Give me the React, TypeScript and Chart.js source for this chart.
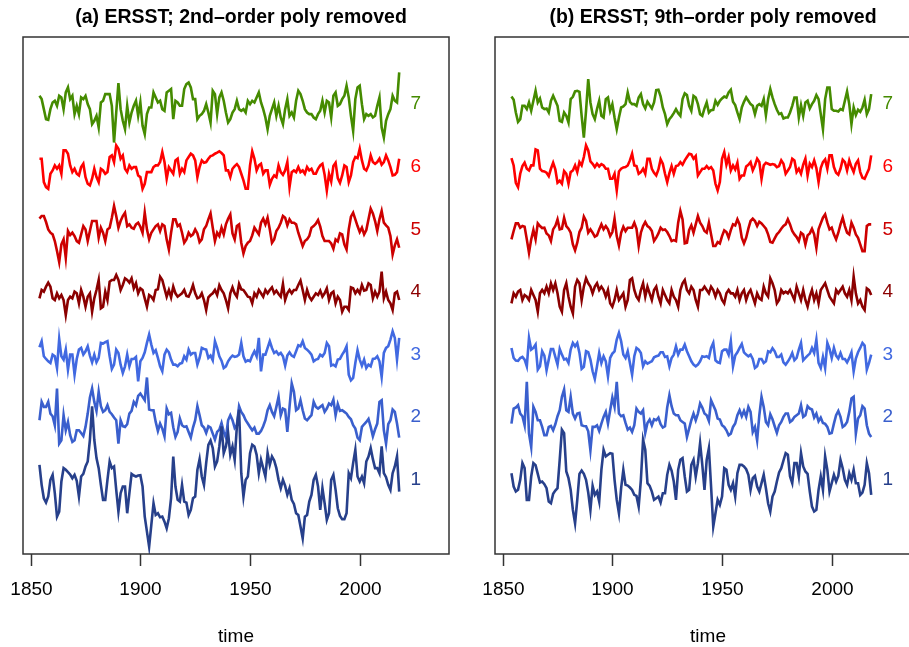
import React, { useEffect, useRef } from "react";
import { Chart, registerables } from "chart.js";
Chart.register(...registerables);

// ---------- data ----------
const START_YEAR = 1854;
const X_TICKS = [1850, 1900, 1950, 2000];
const SERIES_LABELS = ["1", "2", "3", "4", "5", "6", "7"];
const SERIES_COLORS = ["#27408B", "#3A5FCD", "#4169E1", "#8B0000", "#CD0000", "#FF0000", "#458B00"];
const TITLE_A = "(a) ERSST; 2nd\u2013order poly removed";
const TITLE_B = "(b) ERSST; 9th\u2013order poly removed";
const X_TITLE = "time";

// anomalies (arbitrary units; spacing between stacked series = 187.5)
const A1 = [45, -15, -55, -68, -50, 0, 15, -40, -110, -95,
  -5, 35, 30, 23, 16, 5, 15, -3, -50, 10,
  18, 40, 55, 120, 220, 120, 65, 35, -15, -60,
  -60, 0, 55, 35, 40, -30, -95, -40, -20, -20,
  -100, -40, 18, 13, 10, 13, 14, -20, -110, -155,
  -200, -135, -70, -105, -100, -112, -110, -125, -145, -115,
  -55, 70, -20, -60, -65, -15, -65, -68, -105, -90,
  -55, -50, 30, 62, 10, -15, 50, 105, 118, 95,
  40, 55, 100, 160, 80, 100, 140, 75, 100, 60,
  160, 210, 20, -50, 0, 10, 80, 105, 100, 75,
  20, 60, 35, 10, 80, 45, 70, 58, 35, 0,
  -25, 0, -18, -45, -25, -60, -72, -100, -105, -140,
  -175, -110, -105, -65, -45, 0, 15, -20, -90, -25,
  -70, -120, -100, 0, 15, -30, -85, -108, -118, -118,
  -100, 20, 5, 50, 90, 10, -5, 10, -10, 55,
  70, 95, 62, 35, 35, 20, 100, 20, 8, -15,
  -30, 20, 40, 70, -35];
const A2 = [-9, 46, 31, 31, 46, 11, 3, -24, 86, -79,
  -69, 6, -39, -14, -54, -74, -69, -39, -39, -47,
  -56, -29, 11, 59, 86, 46, 19, 76, 33, 16,
  21, 36, 16, 9, -1, -9, -79, -9, -27, -29,
  -21, 11, 19, 46, 36, 64, 71, 61, 51, 119,
  23, 21, 21, -14, -41, -19, -34, -57, 26, 9,
  13, -30, -59, -44, -4, -24, -29, -27, -44, -61,
  -31, -9, 33, 6, -24, -31, -47, -27, -31, -49,
  -67, -44, -37, -17, -44, -61, -9, 6, -9, -32,
  -24, 33, 16, 6, -9, -19, -29, -39, -31, -49,
  -49, -41, -27, -9, 21, 36, 16, 3, 31, 61,
  6, 26, 23, -44, 31, 101, 76, 21, 26, 51,
  21, -4, -9, -1, 6, 46, 31, 26, 31, 36,
  16, 26, 41, 36, 53, 6, 39, 19, 21, 16,
  11, 1, -6, -24, -34, -61, -69, -29, -21, -14,
  -5, -29, -57, -36, -19, 46, 51, -39, -79, -21,
  -9, 23, 16, -19, -61];
const A3 = [22, 40, -5, -13, -20, -25, 0, -5, -40, 47,
  -5, -15, 15, -45, 0, 0, -60, -13, 15, 20,
  0, 10, 25, -3, -23, 0, -23, -10, 35, 33,
  37, 40, -5, -43, -30, 15, 5, -30, -55, -35,
  0, -35, -13, -13, -7, -80, -20, -10, 7, 35,
  60, 30, 5, 13, -10, -35, -50, 0, 15, 7,
  -15, -30, -30, -35, -27, -25, -5, -15, 15, 0,
  5, 5, -30, -10, 20, 17, 15, -10, -3, -17,
  40, 20, -5, -18, -40, -35, -20, -10, -3, -7,
  -5, 0, 35, -5, -21, -17, -20, -3, 10, -5,
  50, -50, 0, 0, 20, 40, 20, 5, 10, 0,
  5, -5, -33, -3, 7, -3, -7, 10, 28, 25,
  40, 20, 15, 8, 0, -20, -15, -13, 0, -5,
  5, 35, 25, -33, -30, -35, -15, -13, 0, 10,
  25, -60, -77, -70, -25, 13, -15, -33, -15, -40,
  -30, -35, -13, -12, -5, -20, -67, 5, 20, 25,
  45, 70, 50, -15, 50];
const A4 = [-19, 6, 1, 16, 28, 16, -19, -24, -4, -19,
  -9, -24, -69, -24, -14, -19, 1, -4, -34, 6,
  -14, -44, -14, -4, -59, -19, 6, 36, -49, -44,
  1, -24, 31, 36, 36, 51, 36, 6, 21, 41,
  36, 28, 41, 11, 26, -4, 11, 6, -19, -44,
  -9, -14, -24, 6, 8, 46, 36, 11, -14, 6,
  -16, 16, -4, -14, -9, -4, 6, -12, -14, 1,
  21, -4, -19, -16, -4, -24, -54, -16, -9, -4,
  6, -9, 20, 6, -4, -24, -49, -4, 14, -4,
  -14, 24, 8, 6, -4, -14, -16, -34, -4, -14,
  6, -4, -14, 6, -4, 6, 14, -4, 4, -6,
  -14, 24, -24, -4, 6, -4, 6, 6, 21, 34,
  6, -24, 6, -14, -24, -14, -4, -9, 4, -14,
  -4, 11, -24, -4, 1, -34, -14, -24, -59, -44,
  -44, -54, 14, 11, -4, 6, -4, 21, 4, 6,
  26, 21, -19, 1, -14, 1, 61, -19, 1, -24,
  -34, -54, -4, 1, -24];
const A5 = [32, 40, 40, 22, 0, -10, -15, -35, -65, -98,
  -45, -30, -85, -5, -17, -10, -20, -35, -40, -15,
  10, 0, -35, -5, 25, 25, 25, -25, 5, -10,
  -35, 0, 5, 35, 70, 40, 5, 25, 40, 50,
  10, 15, 5, 2, 15, 20, 8, -10, 50, 0,
  -30, -10, 0, 10, 15, -5, 15, 10, -30, -60,
  -10, 30, 30, 10, 15, -10, -40, -30, -10, -20,
  -15, 0, -12, -38, -30, 0, 10, 30, 48, 5,
  -35, -10, -20, 5, -15, 15, 32, 45, -12, -30,
  10, 15, -40, -72, -50, -40, -35, -18, 5, -5,
  -15, 20, 32, 15, 35, 0, -40, -30, -5, 5,
  20, 40, 35, 12, 30, 20, 20, 15, -10, -30,
  -50, -35, -30, -20, 5, 10, 17, 28, 8, -20,
  -35, -35, -35, -42, -58, -30, -36, -12, -15, -45,
  -60, 0, 38, 50, 30, 10, -8, 5, -15, -2,
  30, 62, 48, 25, -5, 30, 55, 20, 12, 5,
  -20, -75, -48, -30, -55];
const A6 = [24, 24, -46, -61, -66, -21, -11, 4, -6, 4,
  -21, 49, 49, 39, 4, -16, -6, -21, -26, -1,
  9, -31, -51, -56, -36, -6, -31, -46, -6, -11,
  -21, -16, 29, 34, 14, 64, 54, 24, 34, -6,
  -16, 4, -6, -1, -1, -26, -31, -66, -51, -16,
  -16, -16, -1, 4, 4, 14, 44, 14, -36, -1,
  -11, -21, 19, 24, -21, -6, -16, 19, 29, 39,
  34, 19, -31, -1, 19, 12, 14, 24, 32, 34,
  39, 42, 46, 41, 34, -11, -11, -31, -6, 2,
  8, -1, -21, -41, -66, -66, 4, 46, 24, -11,
  4, 9, -21, -11, -11, -54, -36, -26, -31, 4,
  -16, -24, -11, 14, -61, -16, -11, -16, -1, -16,
  -11, -21, -1, -11, -6, -21, -21, -6, 4, 9,
  -24, -71, -21, -44, 2, 12, -34, -48, -26, 4,
  -1, -46, -26, 14, 29, 26, 54, 19, -6, -11,
  4, 34, 14, 9, 14, 24, 6, 14, 34, 19,
  -1, -26, -24, -16, 24];
const A7 = [25, 15, -15, -45, -47, -15, 5, 10, -5, 25,
  20, -15, 35, 50, 15, 25, -30, -5, -30, 20,
  15, 25, 0, -15, -60, -50, -35, -70, 5, 10,
  30, 30, 30, -5, -115, -25, 63, -15, -50, -75,
  -5, -55, -25, -5, 10, -35, 5, -65, -90, -30,
  -10, -10, 35, 20, 5, 10, -15, -20, 35, 40,
  45, -45, 10, 5, -5, -5, 45, 60, 65, 50,
  15, 15, -45, -35, -30, -20, 0, -25, -55, 40,
  30, -30, 20, 35, 10, -25, -55, -45, -25, -15,
  10, -15, -20, -15, -25, 10, 0, 10, 5, 20,
  35, 5, -15, -40, -75, -35, -15, 5, -35, -5,
  -40, -60, -15, 15, -35, -25, -40, 10, 40, 30,
  10, -15, -25, -30, -30, -40, -45, -30, -20, 10,
  -25, 10, 5, -40, 25, 35, -5, 0, 15, 25,
  55, 20, -35, -80, 15, 50, 55, 0, -45, -30,
  -35, -30, -40, -35, -5, 20, -70, -100, -50, -30,
  -15, 25, 10, 5, 95];

const B1 = [20, -20, -35, -30, 0, 50, 35, -60, -60, 10,
  50, 44, 18, -8, -5, -13, -25, -65, -70, -42,
  -32, -25, 60, 150, 140, 25, 5, -30, -90, -130,
  -60, 18, 28, 18, 0, -38, -90, -18, -45, -35,
  -65, 30, 90, 70, 75, 80, 78, 0, -60, -100,
  -25, 30, -15, -17, -23, -30, -45, -48, -80, 0,
  120, 90, -10, -18, -35, -60, -55, -50, -68, -40,
  -40, 15, 45, 28, -5, -60, 30, 60, 65, 10,
  -35, -30, 45, 60, 10, 50, 110, 45, -30, 60,
  95, -20, -140, -100, -60, -75, -50, 35, 30, -15,
  -30, -10, -50, 20, 45, 45, 40, 32, 15, -30,
  5, 12, -20, -35, -10, 15, -25, -70, -95, -50,
  -35, -5, 22, 35, 58, 80, 75, 10, -10, 50,
  50, 10, 80, 40, 25, 18, -35, -80, -95, -90,
  -30, 10, -30, 70, 30, -35, -10, 15, -5, 12,
  60, 35, 0, -15, 20, 0, 30, -10, -10, -45,
  -38, -15, 50, 20, -45];
const B2 = [-19, 26, 29, 36, 11, 3, -24, 106, -49, -89,
  31, 16, -9, -9, -29, -54, -54, -29, -26, -39,
  -21, 3, 21, 61, 83, 21, 16, 61, 11, -4,
  11, 13, -24, -26, -27, -42, -99, -29, -29, -24,
  -41, -19, 1, 16, -19, 21, 59, 31, 106, 11,
  3, 6, -17, -37, -31, -44, -24, 26, 16, 11,
  21, -47, -17, -7, -24, -6, -9, -1, -21, -31,
  -27, 29, 66, 33, 11, 6, 6, -9, -14, -19,
  -59, -34, -9, 11, -9, 11, 41, 29, 11, 6,
  -11, 51, 36, 21, -4, -7, -24, -29, -39, -54,
  -49, -29, -19, 6, 21, 3, 19, 1, 31, 16,
  -44, -29, -69, 6, 61, 31, -14, -24, 9, -6,
  -27, -47, -24, -14, 1, 11, 11, -14, -9, 1,
  6, 11, 36, 1, 6, 33, 26, 23, -1, 11,
  -12, -1, -17, -20, -29, -49, -47, -19, 6, 19,
  1, -29, -24, -14, 16, 56, 61, -49, -4, 6,
  33, 26, -24, -49, -59];
const B3 = [20, -10, -18, -19, -10, -7, -15, -35, 50, 15,
  20, 30, -45, -35, 10, -3, -47, -15, 17, 17,
  -7, -30, 17, 0, -15, -12, -25, 15, 35, 25,
  35, 5, -43, -37, 10, 7, -15, -50, -73, -35,
  5, -25, -5, -20, -65, -10, 3, 10, 45, 65,
  40, 0, -10, 10, -25, -60, -5, 20, 15, 5,
  -35, -20, -27, -23, -20, -8, -5, -3, 7, 7,
  -7, -5, -35, -10, 0, 25, 0, 15, 15, 30,
  10, -5, -20, -30, -35, -30, -20, -5, -7, -5,
  -10, 20, 35, -17, -23, -25, 10, 15, 15, 0,
  40, -35, -3, 7, 20, 32, 7, 0, -5, 0,
  -13, -40, -35, -13, -13, -25, -20, 10, 7, 19,
  10, -7, -7, 0, -23, -30, -21, -10, 5, -17,
  -10, 15, 35, -17, -10, -3, 3, 20, 5, 45,
  -25, -40, -7, -40, 35, 17, -10, 20, -3, -12,
  5, -13, -13, -23, -10, 7, -50, -12, 7, 20,
  35, 27, -45, -25, 0];
const B4 = [-34, -4, -14, 1, 6, -24, -9, -14, -24, 6,
  -9, -24, -59, -4, 6, -4, 16, -4, 26, 6,
  26, -4, -44, -59, 6, 26, -14, -44, -64, 16,
  36, 26, -24, 16, 41, 26, 16, -4, 16, 26,
  6, 16, 6, -14, 6, -34, -44, -24, 6, -24,
  -14, -4, -44, -24, 36, 41, 6, -14, -24, 6,
  26, -14, 16, -4, -24, 6, 16, -14, -34, 6,
  -9, -24, -34, 6, -14, -24, -44, 6, 26, 36,
  6, -4, 16, 6, -24, -44, 6, 6, 16, 6,
  -4, 16, 6, -14, 6, -4, -24, -34, -4, 6,
  -4, -4, -14, 6, -24, -4, 6, -24, -4, 6,
  -14, -34, -4, -19, -24, 16, -4, -14, 41, 26,
  6, -34, -24, 6, -4, 1, -4, 6, -9, -24,
  16, -4, -24, 6, -24, -44, -14, 6, -24, -4,
  -34, 6, 16, 26, 6, -14, -24, -34, 6, -4,
  6, 16, -4, -14, 6, -24, 46, -4, -34, -24,
  -44, -54, 11, 6, -9];
const B5 = [-30, -5, 18, 18, 5, 10, 8, -30, -70, -30,
  -2, -30, 18, 10, 4, 5, -12, -18, -35, 0,
  10, 30, 0, 2, 35, 10, 2, -10, -45, -63,
  -40, -8, 5, 38, 25, -10, 0, -10, -22, -18,
  0, 15, 0, 10, 0, -20, -8, 32, -20, -48,
  -10, 8, -5, 5, 5, 5, 20, 2, -50, -10,
  10, 22, 10, 5, -5, -35, -25, -12, 5, -2,
  0, -8, -20, -35, -32, -35, 20, 55, 30, -42,
  -40, -2, 12, -10, 15, 40, 20, 10, -5, -10,
  20, -15, -50, -50, -38, -42, -20, -3, -8, -25,
  -2, 15, 12, 30, 15, -25, -42, -25, 2, 25,
  32, 25, 10, 23, 18, 10, 2, -15, -38, -40,
  -27, -15, -8, 2, 10, 15, 30, 15, -5, -15,
  -23, -35, -10, -15, -45, -18, -12, 2, -15, -55,
  0, 18, 35, 45, 20, 0, 5, -15, -30, -10,
  15, 35, 10, -10, -15, 20, 5, -15, -25, -45,
  -65, -65, 10, 15, 15];
const B6 = [26, 4, -48, -61, -21, 2, 12, -6, -11, 4,
  4, 52, 49, -6, -13, -14, -18, -28, -6, 12,
  -8, -48, -42, -51, -13, -21, -51, -16, -11, 4,
  -16, 14, 4, 29, 64, 49, 16, 9, -1, 9,
  1, 8, 4, -6, -6, -36, -36, -21, -71, -14,
  -6, -2, -1, 4, 19, 39, 4, 2, -21, -16,
  -6, -21, 24, 24, -6, -18, -26, -8, 22, 9,
  -21, -46, -19, 2, -21, 2, 4, 14, 6, 19,
  29, 39, 37, 24, 32, -26, -16, -6, -6, 2,
  -6, -1, -11, -51, -71, -46, 24, 44, 6, 29,
  -11, 4, -8, 12, -36, -26, -26, 1, 6, 14,
  -11, 4, 24, 14, -36, 4, 12, 9, 6, 8,
  6, -1, 2, 19, 9, -21, -11, -1, 24, 19,
  -16, -6, -21, 6, 24, -26, 9, -1, 19, -4,
  -46, -4, 14, 22, -6, 34, 34, -1, -18, -24,
  -6, 21, 14, -11, 19, -1, -16, 9, 19, -16,
  -33, -36, -21, -6, 34];
const B7 = [23, 13, -25, -53, -45, -5, -5, -15, 5, -20,
  10, 40, 5, 17, -10, -15, -13, -25, 10, 25,
  10, -5, -50, -53, -25, -35, -55, 15, 22, 38,
  40, 37, -35, -100, -20, 75, 5, -30, -45, -15,
  10, -35, -40, 15, 20, -20, 0, -40, -75, -40,
  -10, -7, 0, 35, 7, 0, 0, -5, 20, 30,
  0, -13, 7, -3, -13, 5, 42, 43, 23, -10,
  -30, -60, -45, -37, -27, -15, -27, -35, 15, 32,
  27, -5, -20, 25, 20, 0, -30, -35, -13, 5,
  -25, -18, -17, 10, -2, 10, 17, 23, 20, 35,
  43, 7, -3, -25, -45, -10, 7, 20, 10, 0,
  -5, -30, -5, 0, -5, 15, -33, 15, 45, 20,
  0, -17, -30, -27, -43, -40, -40, -25, -5, 20,
  20, -40, -3, -35, 5, 10, -13, 0, 10, 27,
  15, -30, -75, 15, 50, 50, -15, -20, -20, -22,
  -15, -18, 10, 38, 0, -60, -10, -33, -17, -23,
  -10, 13, -30, -15, 30];

const PANEL_A = [A1, A2, A3, A4, A5, A6, A7];
const PANEL_B = [B1, B2, B3, B4, B5, B6, B7];

// ---------- layout constants ----------
const SPACING = 187.5;
const X_MIN = 1846.5;
const X_MAX = 2040.7;
const Y_MIN = -222;
const Y_MAX = 1326;
const LABEL_YEAR = 2025.6;
const CANVAS_W = 472;
const CANVAS_H = 647;
const FONT = "'Liberation Sans', Arial, Helvetica, sans-serif";

function Panel({ title, data, left }: { title: string; data: number[][]; left: number }) {
  const ref = useRef<HTMLCanvasElement | null>(null);
  useEffect(() => {
    if (!ref.current) return;
    const datasets = data.map((vals, k) => ({
      label: SERIES_LABELS[k],
      data: vals.map((v, i) => ({ x: START_YEAR + i, y: k * SPACING + v })),
      borderColor: SERIES_COLORS[k],
      backgroundColor: SERIES_COLORS[k],
      borderWidth: 2.6,
      pointRadius: 0,
      tension: 0,
      fill: false,
    }));
    const decor = {
      id: "decor",
      afterDraw(chart: any) {
        const ctx = chart.ctx as CanvasRenderingContext2D;
        const a = chart.chartArea;
        const xs = chart.scales.x;
        const ys = chart.scales.y;
        ctx.save();
        ctx.strokeStyle = "#333";
        ctx.lineWidth = 1.5;
        ctx.strokeRect(a.left, a.top, a.right - a.left, a.bottom - a.top);
        ctx.fillStyle = "#000";
        ctx.font = `19px ${FONT}`;
        ctx.textAlign = "center";
        ctx.textBaseline = "middle";
        X_TICKS.forEach((t) => {
          const px = Math.round(xs.getPixelForValue(t)) + 0.5;
          ctx.beginPath();
          ctx.moveTo(px, a.bottom);
          ctx.lineTo(px, a.bottom + 12);
          ctx.stroke();
          ctx.fillText(String(t), px, a.bottom + 36);
        });
        ctx.fillText(X_TITLE, (a.left + a.right) / 2, a.bottom + 83);
        ctx.font = `bold 19.5px ${FONT}`;
        ctx.fillText(title, (a.left + a.right) / 2 + 5, 18);
        ctx.font = `19px ${FONT}`;
        SERIES_LABELS.forEach((lab, k) => {
          ctx.fillStyle = SERIES_COLORS[k];
          ctx.fillText(lab, xs.getPixelForValue(LABEL_YEAR), ys.getPixelForValue(k * SPACING));
        });
        ctx.restore();
      },
    };
    const chart = new Chart(ref.current, {
      type: "line",
      data: { datasets },
      options: {
        animation: false,
        responsive: false,
        devicePixelRatio: 1,
        layout: { padding: { left: 23, right: CANVAS_W - 449, top: 37, bottom: CANVAS_H - 554 } },
        scales: {
          x: { type: "linear", min: X_MIN, max: X_MAX, display: false },
          y: { type: "linear", min: Y_MIN, max: Y_MAX, display: false },
        },
        plugins: { legend: { display: false }, tooltip: { enabled: false }, title: { display: false } },
      },
      plugins: [decor],
    } as any);
    return () => chart.destroy();
  }, [title, data]);
  return (
    <canvas
      ref={ref}
      width={CANVAS_W}
      height={CANVAS_H}
      style={{ position: "absolute", left, top: 0, width: CANVAS_W, height: CANVAS_H }}
    />
  );
}

export default function App() {
  return (
    <div style={{ position: "absolute", left: 0, top: 0, width: 909, height: 647, overflow: "hidden", background: "#fff" }}>
      <Panel title={TITLE_A} data={PANEL_A} left={0} />
      <Panel title={TITLE_B} data={PANEL_B} left={472} />
    </div>
  );
}
